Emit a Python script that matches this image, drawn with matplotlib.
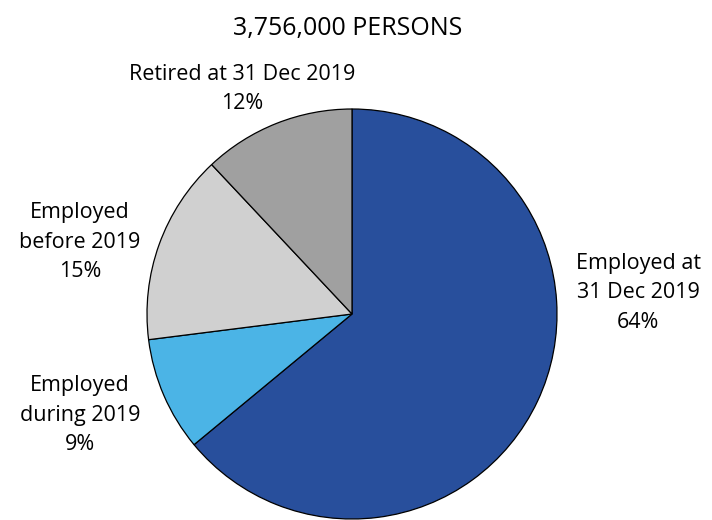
import matplotlib.pyplot as plt

plt.rcParams['font.family'] = ['Open Sans', 'DejaVu Sans']

# Slice data (clockwise from 12 o'clock)
categories = ['Employed at\n31 Dec 2019', 'Employed\nduring 2019', 'Employed\nbefore 2019', 'Retired at 31 Dec 2019']
values = [64, 9, 15, 12]
colors = ['#284F9C', '#4BB4E6', '#D0D0D0', '#A0A0A0']
title = '3,756,000 PERSONS'

# label anchor points in pixels (x, y from top)
label_pos = [(638, 293), (80, 415), (80, 242), (242, 89)]

W, H = 712, 520
fig = plt.figure(figsize=(W / 100, H / 100), dpi=100)
ax = fig.add_axes([147 / W, 1 / H, 410 / W, 410 / H])
ax.pie(values, colors=colors, startangle=90, counterclock=False,
       wedgeprops=dict(edgecolor='black', linewidth=0.9))
ax.set_xlim(-1.0, 1.0)
ax.set_ylim(-1.0, 1.0)
ax.set_aspect('equal')

fig.text(348 / W, 1 - 28 / H, title, ha='center', va='center', fontsize=18)
for cat, v, (px, py) in zip(categories, values, label_pos):
    fig.text(px / W, 1 - py / H, f'{cat}\n{v}%', ha='center', va='center',
             fontsize=15.5, linespacing=1.55)

fig.savefig('out.png', dpi=100)
